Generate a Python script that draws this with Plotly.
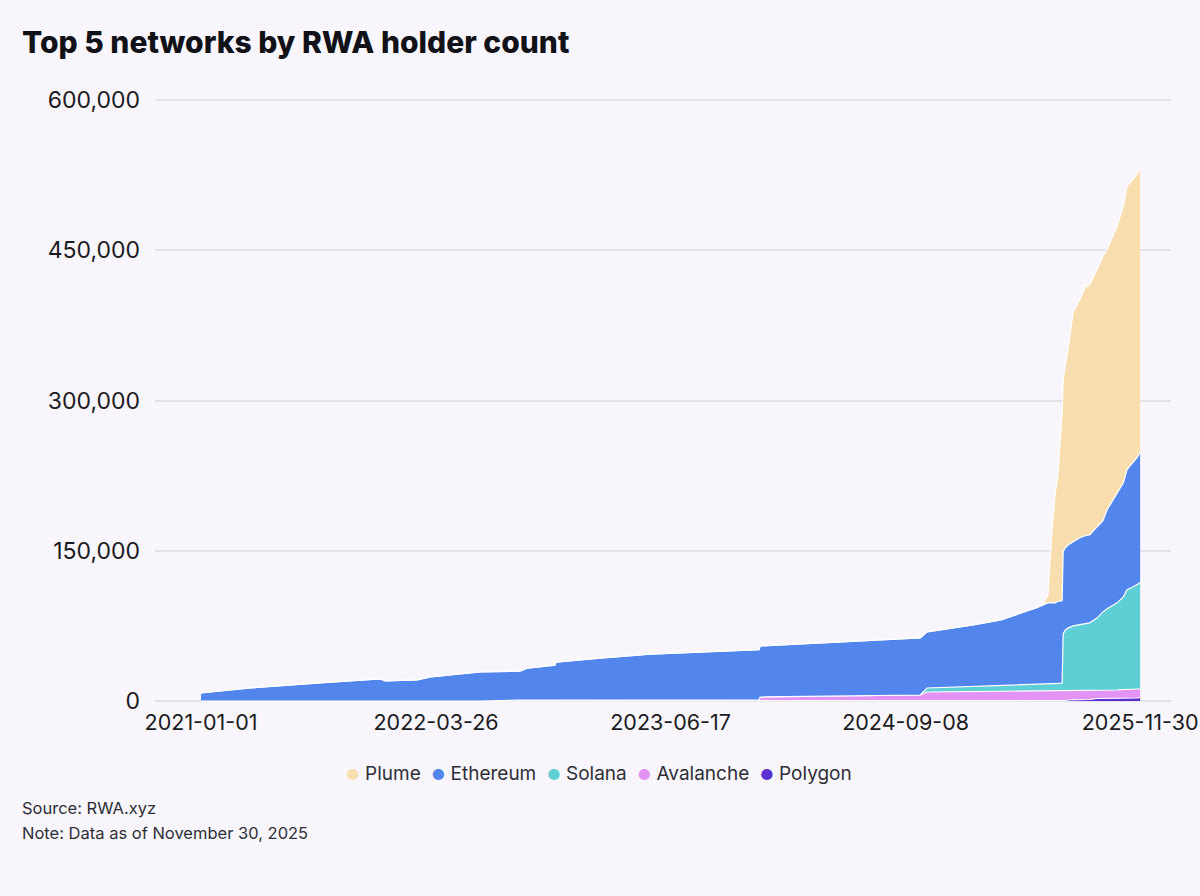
import plotly.graph_objects as go

# values, in thousands of holders per network
dates = [
    "2021-01-01", "2021-04-05", "2021-08-16", "2021-12-09", "2021-12-19",
    "2022-02-18", "2022-03-15", "2022-06-18", "2022-09-02", "2022-09-16",
    "2022-11-08", "2022-11-10", "2023-02-02", "2023-05-09", "2023-12-03",
    "2023-12-05", "2024-10-06", "2024-10-19", "2025-01-15", "2025-03-09",
    "2025-05-15", "2025-05-29", "2025-06-02", "2025-06-07", "2025-06-11",
    "2025-06-15", "2025-06-21", "2025-06-26", "2025-06-30", "2025-07-04",
    "2025-07-06", "2025-07-10", "2025-07-16", "2025-07-25", "2025-08-07",
    "2025-08-17", "2025-08-26", "2025-09-09", "2025-09-20", "2025-09-28",
    "2025-10-04", "2025-10-17", "2025-10-29", "2025-11-05", "2025-11-17",
    "2025-11-24", "2025-11-30",
]

polygon = [
    0, 0, 0, 0, 0,
    0, 0, 0, 0, 0,
    0, 0, 0, 0, 0,
    0.5, 0.5, 0.5, 0.5, 0.5,
    0.5, 0.5, 0.5, 0.5, 0.5,
    0.5, 0.5, 0.5, 0.5, 0.5,
    0.5, 0.5, 1, 1, 1,
    1, 1.5, 2.5, 2.5, 2.5,
    2.5, 2.5, 3, 3, 3,
    3, 3.5,
]

avalanche = [
    0, 0, 0, 0, 0,
    0, 0, 0, 0.8, 0.8,
    0.8, 0.8, 0.8, 0.8, 0.8,
    3.5, 5.5, 8.5, 9, 9,
    9.5, 9.5, 9.5, 9.5, 9.5,
    9.5, 9.5, 9.5, 9.5, 9.5,
    9.5, 9.5, 9.5, 9.5, 9.5,
    9.5, 9.5, 8.5, 8.5, 8.5,
    8.5, 8.5, 8.5, 8.5, 8.5,
    8.5, 8.5,
]

solana = [
    0, 0, 0, 0, 0,
    0, 0, 0, 0, 0,
    0, 0, 0, 0, 0,
    0, 0, 4, 5, 6,
    7, 7, 7, 7, 7,
    7, 7, 7.5, 7.5, 8,
    57, 61, 62.5, 64.5, 65.5,
    66.5, 67, 72, 78, 81,
    83, 87, 92.5, 99.5, 102.5,
    104.5, 106,
]

ethereum = [
    8, 13, 18, 22, 20,
    21, 24, 29, 29, 32,
    35, 38, 42, 46, 50.5,
    51, 57, 56, 61.5, 65.5,
    76, 79, 80, 81, 81,
    81, 81, 82, 82, 82,
    82, 82, 83, 84, 87,
    88, 88, 91, 91, 99,
    102, 110, 114, 120, 124,
    127, 130,
]

plume = [
    0, 0, 0, 0, 0,
    0, 0, 0, 0, 0,
    0, 0, 0, 0, 0,
    0, 0, 0, 0, 0,
    0, 0, 4, 8, 43,
    76, 110, 125, 159, 186,
    172, 181, 198, 229, 238,
    248, 250, 257, 264, 260,
    262, 266, 276, 283, 283,
    283, 283,
]

# bottom of the stack first
series = [
    ("Polygon", polygon, "#5B2FD2"),
    ("Avalanche", avalanche, "#E393F3"),
    ("Solana", solana, "#5FCFD6"),
    ("Ethereum", ethereum, "#5286ED"),
    ("Plume", plume, "#F8DDAE"),
]

bg = "#F8F6FC"
text_col = "#1B1B22"

fig = go.Figure()
for name, vals, col in series:
    fig.add_trace(go.Scatter(
        x=dates, y=[v * 1000 for v in vals], name=name,
        mode="lines", stackgroup="one",
        line=dict(color="white", width=1.2),
        fillcolor=col, showlegend=False,
        hoverinfo="x+y+name",
    ))

fig.update_layout(
    width=1200, height=896,
    paper_bgcolor=bg, plot_bgcolor=bg,
    font=dict(family="Inter, Roboto, sans-serif", color=text_col),
    margin=dict(l=155, r=29, t=96, b=193),
    title=dict(
        text="Top 5 networks by RWA holder count",
        xref="container", yref="container",
        x=22 / 1200, xanchor="left", y=1 - 42 / 896, yanchor="middle",
        font=dict(size=30, color="#111118", weight=800),
    ),
    showlegend=False,
)

fig.update_xaxes(
    type="date",
    range=["2020-10-05", "2026-01-28"],
    tickvals=["2021-01-01", "2022-03-26", "2023-06-17", "2024-09-08", "2025-11-30"],
    ticktext=["2021-01-01", "2022-03-26", "2023-06-17", "2024-09-08", "2025-11-30"],
    showgrid=False, zeroline=False, showline=False,
    tickfont=dict(size=21.5, color=text_col),
    ticklabelstandoff=4, automargin=False,
)

fig.update_yaxes(
    range=[-2000, 604000],
    tickvals=[0, 150000, 300000, 450000, 600000],
    tickformat=",",
    showgrid=True, gridcolor="#E3E1E9", gridwidth=2,
    zeroline=False, showline=False,
    tickfont=dict(size=23, color=text_col),
    ticklabelstandoff=14, automargin=False,
)

# legend row: coloured dots followed by the network names (top of stack first)
legend_parts = []
for name, vals, col in reversed(series):
    legend_parts.append(
        f"<span style='color:{col};font-size:15px'>●</span>&nbsp;{name}"
    )
fig.add_annotation(
    text="&nbsp;&nbsp;".join(legend_parts),
    xref="paper", yref="paper",
    x=(599 - 155) / 1016, xanchor="center",
    y=(703 - 773) / 607, yanchor="middle",
    showarrow=False, font=dict(size=19, color="#2E2E36"),
)

for txt, ypage in [("Source: RWA.xyz", 808), ("Note: Data as of November 30, 2025", 833)]:
    fig.add_annotation(
        text=txt, xref="paper", yref="paper",
        x=(20 - 155) / 1016, xanchor="left",
        y=(703 - ypage) / 607, yanchor="middle",
        showarrow=False, font=dict(size=16.5, color="#2E2E36"),
    )

# drop the browser's default page margin so the chart fills the window
fig.write_html(
    "out.html",
    config={"displayModeBar": False},
    post_script="document.body.style.margin='0';document.body.style.background='#F8F6FC';",
)
